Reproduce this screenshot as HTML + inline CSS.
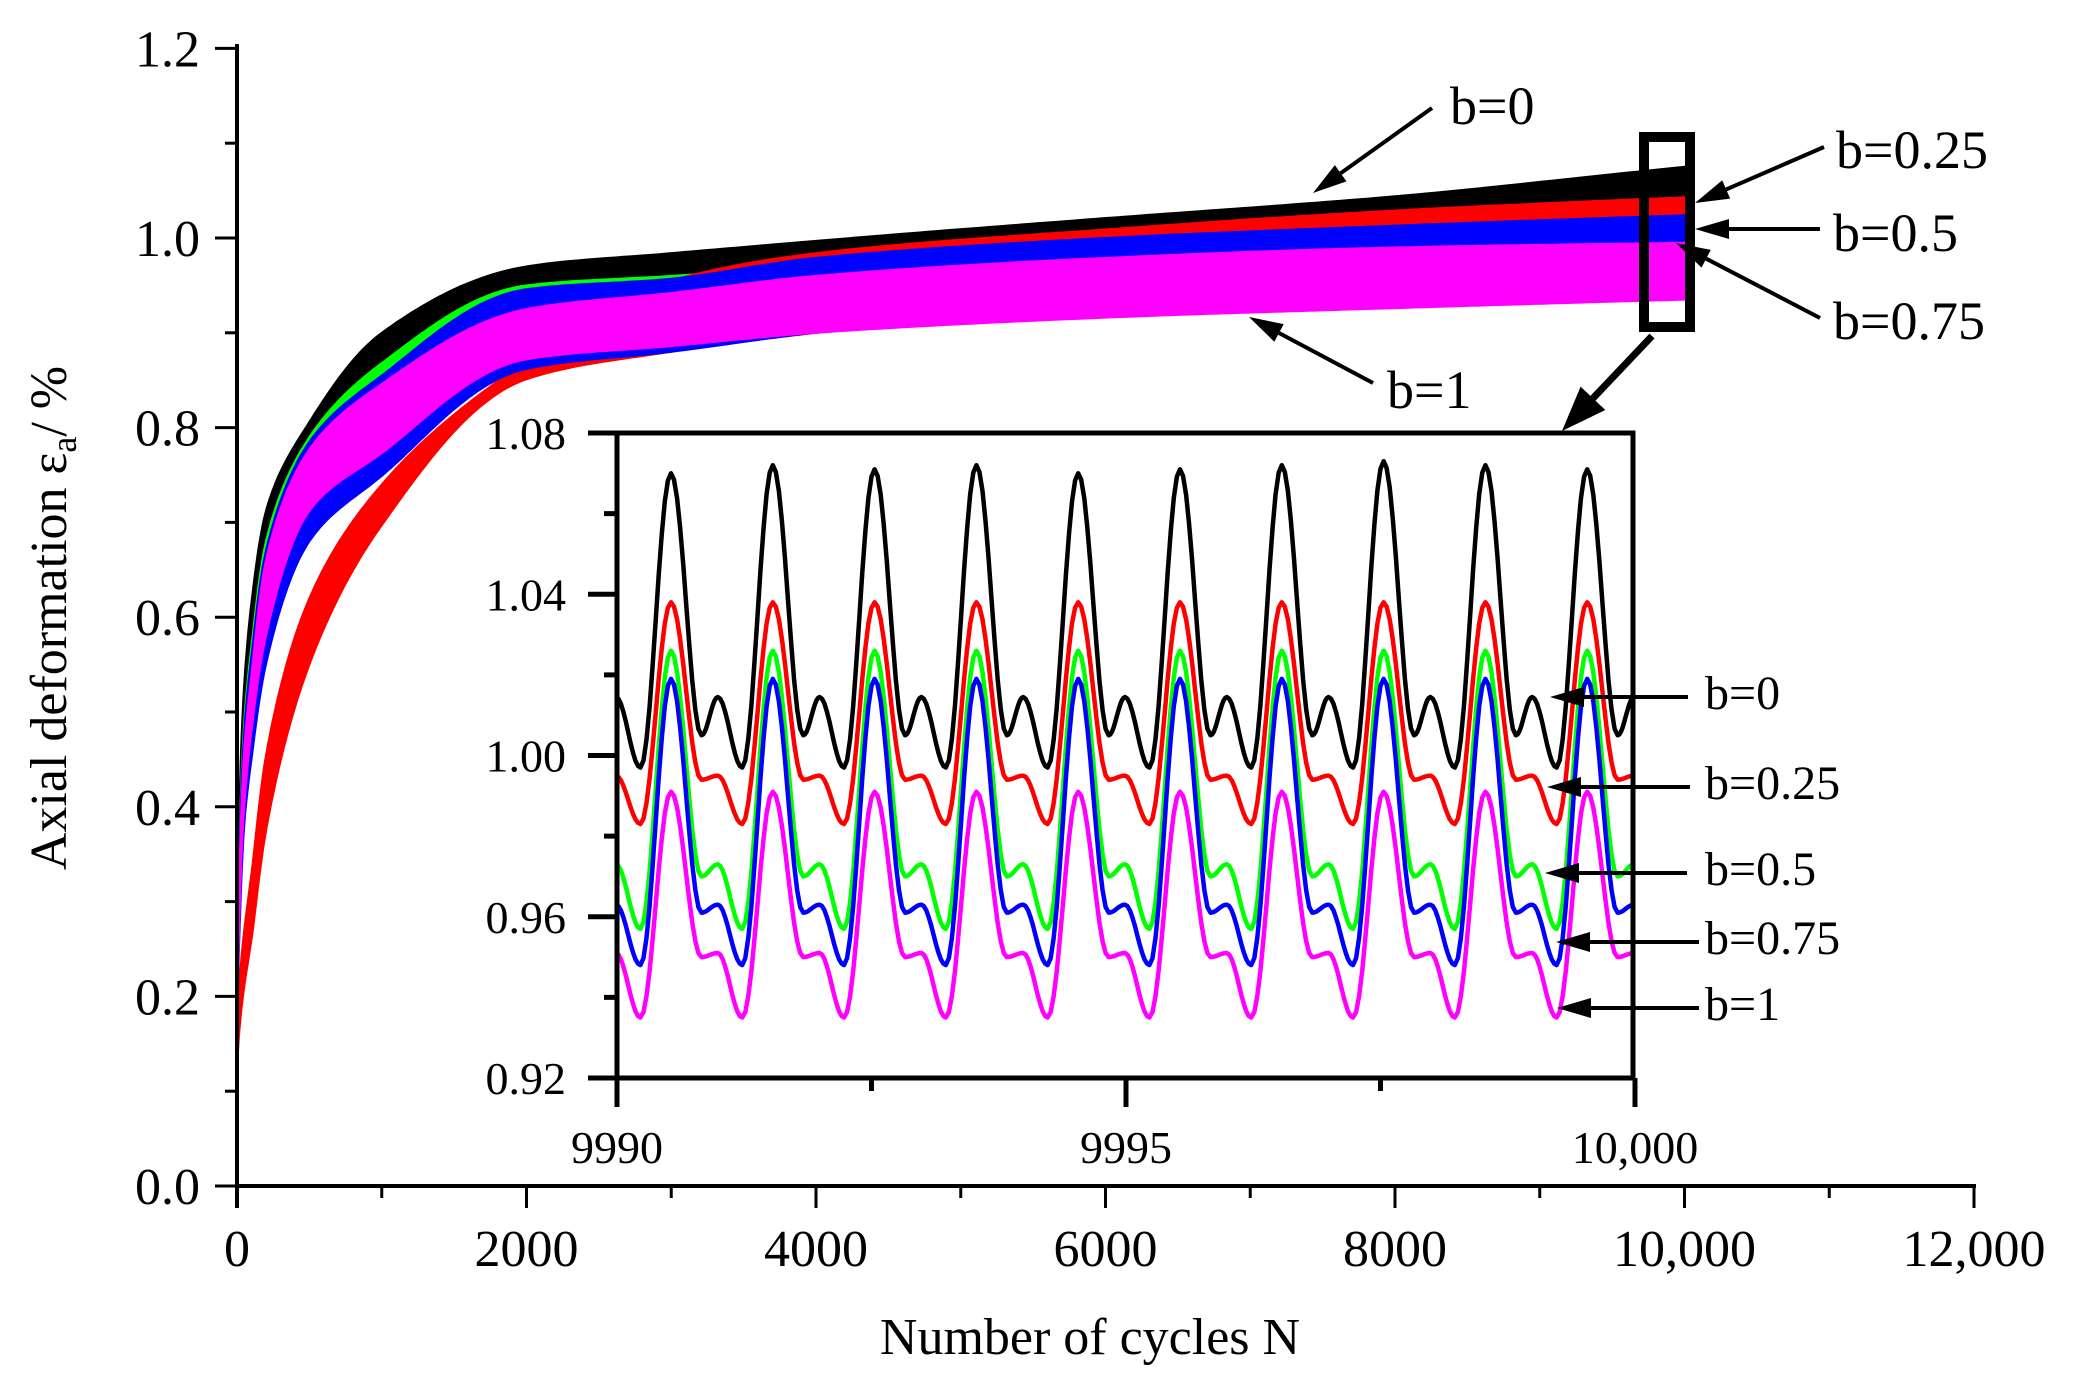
<!DOCTYPE html>
<html><head><meta charset="utf-8"><style>
html,body{margin:0;padding:0;background:#fff}
svg{display:block}
text{font-family:"Liberation Serif",serif;fill:#000}
</style></head><body>
<svg id="chart" width="2080" height="1392" viewBox="0 0 2080 1392" xmlns="http://www.w3.org/2000/svg">
<defs>
<clipPath id="insetClip"><rect x="617" y="435" width="1018" height="641"/></clipPath>
</defs>
<g id="bands"></g>
<g id="mainAxes"></g>
<g id="annot"></g>
<rect x="617" y="435" width="1018" height="641" fill="#fff"/>
<g id="inset"></g>
<g id="annot2"></g>
<text x="1090" y="1354" font-size="52" text-anchor="middle">Number of cycles N</text>
<text transform="translate(66,618) rotate(-90)" font-size="52" text-anchor="middle">Axial deformation ε<tspan font-size="36" dy="10">a</tspan><tspan dy="-10">/ %</tspan></text>
</svg>
<script>
// ---- main chart data ----
const gridN = [0,20,50,100,200,500,1000,2000,3000,4000,6000,8000,10000];
const b0Upper   = [0.15,0.42,0.53,0.616,0.712,0.806,0.90,0.970,0.984,0.997,1.021,1.044,1.075];
const b0Lower   = [0.12,0.35,0.45,0.53,0.63,0.74,0.83,0.90,0.93,0.95,0.97,0.99,1.00];
const b05Upper  = [0.14,0.38,0.49,0.57,0.68,0.79,0.868,0.950,0.96,0.97,0.99,1.01,1.026];
const b05Lower  = [0.10,0.30,0.40,0.48,0.58,0.70,0.79,0.87,0.89,0.905,0.925,0.94,0.957];
const b025Upper = [0.12,0.22,0.27,0.33,0.454,0.62,0.74,0.87,0.955,0.984,1.009,1.029,1.043];
const b025Lower = [0.10,0.17,0.21,0.26,0.374,0.55,0.697,0.851,0.88,0.90,0.93,0.955,0.983];
const b075Upper = [0.14,0.37,0.48,0.56,0.67,0.785,0.855,0.946,0.957,0.979,1.0,1.013,1.024];
const b075Lower = [0.10,0.28,0.38,0.45,0.55,0.68,0.749,0.862,0.88,0.90,0.925,0.94,0.948];
const b1Upper   = [0.13,0.35,0.46,0.54,0.66,0.777,0.846,0.925,0.942,0.960,0.979,0.990,0.995];
const b1Lower   = [0.10,0.30,0.40,0.48,0.58,0.712,0.773,0.872,0.886,0.90,0.916,0.926,0.935];
const xTicks = [0,2000,4000,6000,8000,10000,12000];
const xTickLabels = ["0","2000","4000","6000","8000","10,000","12,000"];
const yTicks = [0,0.2,0.4,0.6,0.8,1.0,1.2];
const yTickLabels = ["0.0","0.2","0.4","0.6","0.8","1.0","1.2"];
// ---- inset data: key points per cycle (offset from peak, value) ----
const insetCycles = [0,1,2,3,4,5,6,7,8,9];
const insetPhase = 0.53;
const keyOffsets = [-0.30,0,0.30,0.46,0.70];
const b0Keys   = [0.997,1.071,1.005,1.0145,0.997];
const b025Keys = [0.983,1.038,0.994,0.995,0.983];
const b05Keys  = [0.957,1.026,0.970,0.973,0.957];
const b075Keys = [0.948,1.019,0.961,0.963,0.948];
const b1Keys   = [0.935,0.991,0.950,0.951,0.935];
const b0Peaks  = [1.070,1.072,1.071,1.072,1.070,1.071,1.072,1.073,1.072,1.071];
const insetYTicks = [0.92,0.96,1.00,1.04,1.08];
const insetYLabels = ["0.92","0.96","1.00","1.04","1.08"];
const insetXTicks = [9990,9995,10000];
const insetXLabels = ["9990","9995","10,000"];

const NS="http://www.w3.org/2000/svg";
function mk(tag,attrs,parent){const e=document.createElementNS(NS,tag);for(const k in attrs)e.setAttribute(k,attrs[k]);parent.appendChild(e);return e;}
const X0=237,XS=(1974-237)/12000,Y0=1186,YS=948;
const sx=n=>X0+n*XS, sy=v=>Y0-v*YS;
const ix=t=>617+(t-9990)*(1635-617)/10, iy=v=>1078-(v-0.92)*(1078-433)/0.16;

// monotone cubic interpolation in sqrt(N) space
function interp(xs,ys){
  const n=xs.length,d=[],m=new Array(n);
  for(let i=0;i<n-1;i++)d.push((ys[i+1]-ys[i])/(xs[i+1]-xs[i]));
  m[0]=d[0];m[n-1]=d[n-2];
  for(let i=1;i<n-1;i++){m[i]=(d[i-1]*d[i]<=0)?0:2/(1/d[i-1]+1/d[i]);}
  return x=>{let i=0;while(i<n-2&&x>xs[i+1])i++;
    const h=xs[i+1]-xs[i],t=(x-xs[i])/h,t2=t*t,t3=t2*t;
    return (2*t3-3*t2+1)*ys[i]+(t3-2*t2+t)*h*m[i]+(-2*t3+3*t2)*ys[i+1]+(t3-t2)*h*m[i+1];};
}
const uGrid=gridN.map(Math.sqrt);
const bands=document.getElementById('bands');
function band(up,lo,color,name){
  const fu=interp(uGrid,up),fl=interp(uGrid,lo),S=300,uMax=Math.sqrt(10000),top=[],bot=[];
  for(let s=0;s<=S;s++){const u=uMax*s/S,n=u*u;top.push([sx(n),sy(fu(u))]);bot.push([sx(n),sy(fl(u))]);}
  let d='M'+top.map(p=>p[0].toFixed(1)+','+p[1].toFixed(1)).join('L');
  for(let i=bot.length-1;i>=0;i--)d+='L'+bot[i][0].toFixed(1)+','+bot[i][1].toFixed(1);
  const p=mk('path',{d:d+'Z',fill:color,stroke:color,'stroke-width':2},bands);
  
  
}
band(b0Upper,b0Lower,'#000','band-b0');
band(b05Upper,b05Lower,'#00ff00','band-b0.5');
band(b025Upper,b025Lower,'#ff0000','band-b0.25');
band(b075Upper,b075Lower,'#0000ff','band-b0.75');
band(b1Upper,b1Lower,'#ff00ff','band-b1');

const ax=document.getElementById('mainAxes');
mk('line',{x1:X0,y1:Y0,x2:1976,y2:Y0,stroke:'#000','stroke-width':4},ax);
mk('line',{x1:X0,y1:44,x2:X0,y2:1208,stroke:'#000','stroke-width':4},ax);
for(let n=0;n<=12000;n+=1000){const maj=n%2000===0;mk('line',{x1:sx(n),y1:Y0,x2:sx(n),y2:Y0+(maj?22:12),stroke:'#000','stroke-width':3},ax);}
for(let k=0;k<=12;k++){const v=k/10;const maj=k%2===0;mk('line',{x1:X0,y1:sy(v),x2:X0-(maj?22:12),y2:sy(v),stroke:'#000','stroke-width':3},ax);}
xTicks.forEach((n,i)=>{const t=mk('text',{x:sx(n),y:1266,'font-size':52,'text-anchor':'middle'},ax);t.textContent=xTickLabels[i];

});
yTicks.forEach((v,i)=>{const t=mk('text',{x:200,y:sy(v)+18,'font-size':52,'text-anchor':'end'},ax);t.textContent=yTickLabels[i];

});

// annotations
function arrow(par,x1,y1,x2,y2,w,hl,hw,name){
  const g=mk('g',{},par);
  
  
  const dx=x2-x1,dy=y2-y1,L=Math.hypot(dx,dy),ux=dx/L,uy=dy/L;
  const bx=x2-ux*hl,by=y2-uy*hl;
  mk('line',{x1:x1,y1:y1,x2:bx,y2:by,stroke:'#000','stroke-width':w},g);
  mk('polygon',{points:`${x2},${y2} ${bx-uy*hw},${by+ux*hw} ${bx+uy*hw},${by-ux*hw}`,fill:'#000'},g);
}
function label(par,x,y,s,fs,name){const t=mk('text',{x:x,y:y,'font-size':fs},par);t.textContent=s;

}
const an=document.getElementById('annot');
mk('rect',{x:1644,y:137,width:46,height:190,fill:'none',stroke:'#000','stroke-width':10},an);
arrow(an,1652,336,1562,431,7,45,17,'zoom-arrow');
label(an,1450,124,'b=0',54,'label-b0');arrow(an,1432,108,1313,193,4,34,10,'arrow-b0');
label(an,1836,168,'b=0.25',54,'label-b0.25');arrow(an,1824,147,1695,203,4,34,10,'arrow-b0.25');
label(an,1833,251,'b=0.5',54,'label-b0.5');arrow(an,1820,229,1695,229,4,34,10,'arrow-b0.5');
label(an,1833,339,'b=0.75',54,'label-b0.75');arrow(an,1820,318,1676,243,4,34,10,'arrow-b0.75');
label(an,1387,408,'b=1',54,'label-b1');arrow(an,1373,383,1249,317,4,34,10,'arrow-b1');

// inset
const ins=document.getElementById('inset');
const cg=mk('g',{'clip-path':'url(#insetClip)'},ins);
function series(keys,color,name,peaks){
  const pts=[];
  for(let c=-1;c<=10;c++){
    const pk=(peaks&&c>=0&&c<peaks.length)?peaks[c]:keys[1];
    keyOffsets.forEach((o,i)=>{if(i===4)return;pts.push([9990+insetPhase+c+o,i===1?pk:keys[i]]);});
  }
  let d='';
  for(let i=0;i<pts.length-1;i++){
    const [t0,v0]=pts[i],[t1,v1]=pts[i+1];
    for(let s=0;s<=10;s++){const f=s/10,w=(1-Math.cos(Math.PI*f))/2;
      const px=ix(t0+(t1-t0)*f),py=iy(v0+(v1-v0)*w);
      d+=(d?'L':'M')+px.toFixed(1)+','+py.toFixed(1);}
  }
  const p=mk('path',{d:d,fill:'none',stroke:color,'stroke-width':4.5,'stroke-linejoin':'round'},cg);
  
  
}
series(b0Keys,'#000','inset-line-b0',b0Peaks);
series(b025Keys,'#ff0000','inset-line-b0.25');
series(b05Keys,'#00ff00','inset-line-b0.5');
series(b075Keys,'#0000ff','inset-line-b0.75');
series(b1Keys,'#ff00ff','inset-line-b1');
mk('rect',{x:617,y:433,width:1016,height:645,fill:'none',stroke:'#000','stroke-width':5},ins);
for(let k=0;k<=8;k++){const v=0.92+k*0.02;const maj=k%2===0;mk('line',{x1:617,y1:iy(v),x2:617-(maj?29:13),y2:iy(v),stroke:'#000','stroke-width':5},ins);}
for(let k=0;k<=4;k++){const t=9990+k*2.5;const maj=k%2===0;mk('line',{x1:ix(t),y1:1078,x2:ix(t),y2:1078+(maj?29:13),stroke:'#000','stroke-width':5},ins);}
insetYTicks.forEach((v,i)=>{const t=mk('text',{x:566,y:iy(v)+16,'font-size':46,'text-anchor':'end'},ins);t.textContent=insetYLabels[i];

});
insetXTicks.forEach((n,i)=>{const t=mk('text',{x:ix(n),y:1163,'font-size':46,'text-anchor':'middle'},ins);t.textContent=insetXLabels[i];

});
const an2=document.getElementById('annot2');
function ilabel(y,s,tail,tip,name){
  label(an2,1705,y+12,s,48,'inset-label-'+name);
  arrow(an2,tail,y,tip,y,4,34,10,'inset-arrow-'+name);
}
ilabel(697,'b=0',1688,1550,'b0');
ilabel(787,'b=0.25',1690,1547,'b0.25');
ilabel(873,'b=0.5',1687,1545,'b0.5');
ilabel(942,'b=0.75',1699,1556,'b0.75');
ilabel(1008,'b=1',1699,1557,'b1');
</script>
</body></html>
